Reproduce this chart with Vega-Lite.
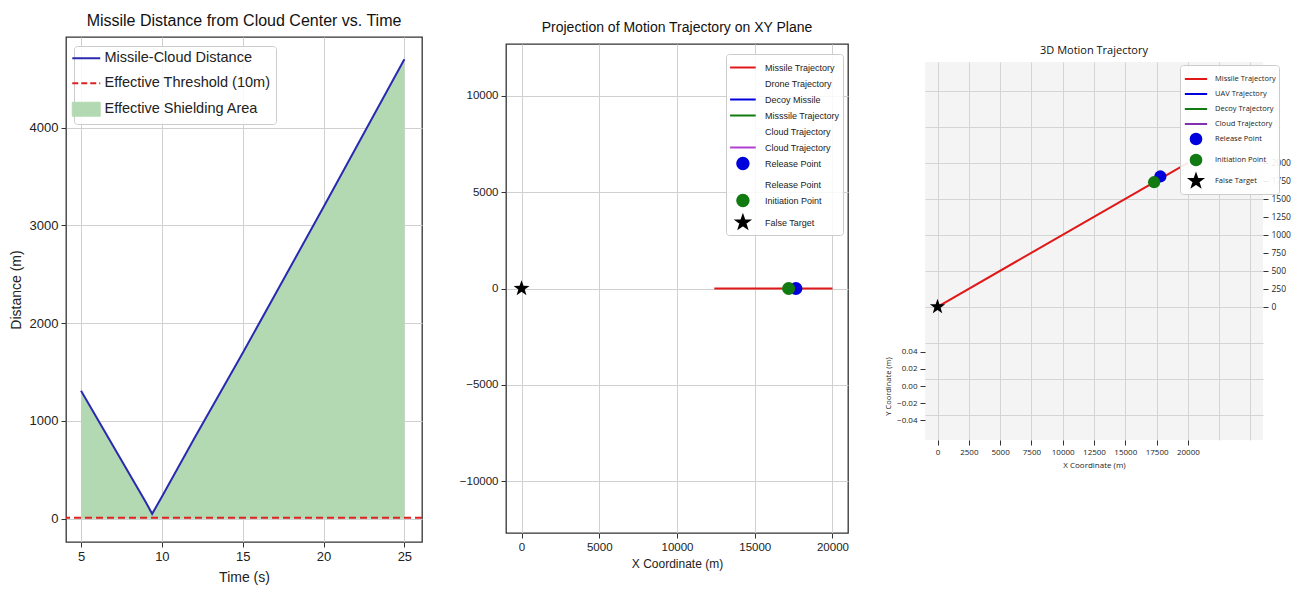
{
  "$schema": "https://vega.github.io/schema/vega-lite/v6.json",
  "padding": {"left": 8, "top": 11, "right": 5, "bottom": 2},
  "background": "white",
  "spacing": 34,
  "config": {
    "font": "Liberation Sans",
    "axis": {"gridColor": "#d0d0d0", "gridWidth": 1, "tickColor": "#333333", "labelColor": "#222222", "titleColor": "#222222", "domain": false, "labelFont": "Liberation Sans", "titleFont": "Liberation Sans", "titleFontWeight": "normal", "tickSize": 5, "labelPadding": 3, "labelOverlap": false},
    "title": {"font": "Liberation Sans", "fontWeight": "normal", "color": "#111111"},
    "legend": {"labelFont": "Liberation Sans"}
  },
  "datasets": {
    "dist": [
      {"t": 5, "d": 1310, "series": "Missile-Cloud Distance"},
      {"t": 9, "d": 170, "series": "Missile-Cloud Distance"},
      {"t": 9.4, "d": 50, "series": "Missile-Cloud Distance"},
      {"t": 10, "d": 225, "series": "Missile-Cloud Distance"},
      {"t": 12, "d": 820, "series": "Missile-Cloud Distance"},
      {"t": 15, "d": 1695, "series": "Missile-Cloud Distance"},
      {"t": 20, "d": 3188, "series": "Missile-Cloud Distance"},
      {"t": 25, "d": 4700, "series": "Missile-Cloud Distance"}
    ]
  },
  "resolve": {"scale": {"color": "independent", "x": "independent", "y": "independent"}, "legend": {"color": "independent"}},
  "hconcat": [
    {
      "spacing": 0,
      "resolve": {"scale": {"color": "independent", "x": "independent", "y": "independent"}, "legend": {"color": "independent"}},
      "vconcat": [
        {
          "width": 10,
          "height": 1,
          "view": {"stroke": null},
          "data": {"values": []},
          "mark": {"type": "point", "opacity": 0},
          "encoding": {}
        },
        {
          "width": 356,
          "height": 505,
          "view": {"stroke": "#333333", "strokeWidth": 1.3},
          "title": {"text": "Missile Distance from Cloud Center vs. Time", "fontSize": 16, "offset": 8},
          "layer": [
            {
              "data": {"name": "dist"},
              "mark": {"type": "area", "opacity": 1, "color": "#b2d9b2"},
              "encoding": {
                "x": {"field": "t", "type": "quantitative", "scale": {"domain": [4.07, 26.09], "nice": false, "zero": false},
                  "axis": {"values": [5, 10, 15, 20, 25], "title": "Time (s)", "titleFontSize": 14, "labelFontSize": 13, "titlePadding": 7}},
                "y": {"field": "d", "type": "quantitative", "scale": {"domain": [-238, 4928], "nice": false, "zero": false},
                  "axis": {"values": [0, 1000, 2000, 3000, 4000], "format": "d", "title": "Distance (m)", "titleFontSize": 14, "labelFontSize": 13, "titlePadding": 6}},
                "y2": {"datum": 0}
              }
            },
            {
              "data": {"name": "dist"},
              "mark": {"type": "line", "strokeWidth": 2},
              "encoding": {
                "x": {"field": "t", "type": "quantitative"},
                "y": {"field": "d", "type": "quantitative"},
                "color": {"field": "series", "type": "nominal",
                  "scale": {"domain": ["Missile-Cloud Distance", "Effective Threshold (10m)", "Effective Shielding Area"], "range": ["#2a2ab0", "#dd2222", "#b2d9b2"]},
                  "legend": {"orient": "none", "legendX": 8, "legendY": 9, "title": null, "labelFontSize": 14.5, "labelLimit": 300, "labelColor": "#222222", "symbolSize": 784, "rowPadding": 10, "padding": 5, "labelOffset": 11, "fillColor": "rgba(255,255,255,0.85)", "strokeColor": "#cccccc", "cornerRadius": 3,
                    "encode": {"symbols": {"update": {
                      "shape": {"signal": "datum.value == 'Effective Shielding Area' ? 'M-1,-0.5H1V0.5H-1Z' : 'M-1,0H1'"},
                      "fill": {"signal": "datum.value == 'Effective Shielding Area' ? '#b2d9b2' : 'transparent'"},
                      "stroke": {"signal": "datum.value == 'Effective Shielding Area' ? '#a3d0a3' : (datum.value == 'Effective Threshold (10m)' ? '#dd2222' : '#2a2ab0')"},
                      "strokeDash": {"signal": "datum.value == 'Effective Threshold (10m)' ? [6,3] : [1,0]"},
                      "strokeWidth": {"signal": "datum.value == 'Effective Shielding Area' ? 1 : 2"},
                      "opacity": {"value": 1}
                    }}}}
                }
              }
            },
            {
              "data": {"values": [{"d": 10, "series": "Effective Threshold (10m)"}]},
              "mark": {"type": "rule", "strokeWidth": 2.2, "strokeDash": [7, 4], "color": "#dd2222"},
              "encoding": {
                "y": {"field": "d", "type": "quantitative"}
              }
            }
          ]
        }
      ]
    },
    {
      "spacing": 8,
      "resolve": {"scale": {"color": "independent", "x": "independent", "y": "independent"}, "legend": {"color": "independent"}},
      "vconcat": [
        {
          "width": 10,
          "height": 1,
          "view": {"stroke": null},
          "data": {"values": []},
          "mark": {"type": "point", "opacity": 0},
          "encoding": {}
        },
        {
          "width": 342,
          "height": 489,
          "view": {"stroke": "#333333", "strokeWidth": 1.3},
          "title": {"text": "Projection of Motion Trajectory on XY Plane", "fontSize": 14, "offset": 9},
          "layer": [
            {
              "data": {"values": [
                {"x": 12400, "y": 0, "series": "Missile Trajectory"},
                {"x": 20000, "y": 0, "series": "Missile Trajectory"}
              ]},
              "mark": {"type": "line", "strokeWidth": 2},
              "encoding": {
                "x": {"field": "x", "type": "quantitative", "scale": {"domain": [-1000, 21000], "nice": false, "zero": false},
                  "axis": {"values": [0, 5000, 10000, 15000, 20000], "format": "d", "title": "X Coordinate (m)", "titleFontSize": 12, "labelFontSize": 11.5, "titlePadding": 6}},
                "y": {"field": "y", "type": "quantitative", "scale": {"domain": [-12680, 12680], "nice": false, "zero": false},
                  "axis": {"values": [-10000, -5000, 0, 5000, 10000], "format": "d", "title": null, "labelFontSize": 11.5}},
                "color": {"field": "series", "type": "nominal",
                  "scale": {"domain": ["Missile Trajectory", "Drone Trajectory", "Decoy Missile", "Misssile Trajectory", "Cloud Trajectory", "Cloud Trajectory ", "Release Point", "Release Point ", "Initiation Point", "False Target"],
                    "range": ["#e01818", "#ffffff", "#0000dd", "#117a11", "#ffffff", "#b040d0", "#0000dd", "#ffffff", "#117a11", "#000000"]},
                  "legend": {"orient": "none", "legendX": 220, "legendY": 10, "title": null, "labelFontSize": 9, "labelColor": "#222222", "symbolSize": 361, "rowPadding": 0, "padding": 3, "labelOffset": 15, "fillColor": "rgba(255,255,255,0.85)", "strokeColor": "#cccccc", "cornerRadius": 3,
                    "encode": {"symbols": {"update": {
                      "shape": {"signal": "datum.value == 'False Target' ? 'M0,-0.7L0.165,-0.227L0.666,-0.216L0.266,0.087L0.412,0.566L0,0.28L-0.412,0.566L-0.266,0.087L-0.666,-0.216L-0.165,-0.227Z' : ((datum.value == 'Release Point' || datum.value == 'Initiation Point') ? 'M0.6,0L0.554,0.23L0.424,0.424L0.23,0.554L0,0.6L-0.23,0.554L-0.424,0.424L-0.554,0.23L-0.6,0L-0.554,-0.23L-0.424,-0.424L-0.23,-0.554L0,-0.6L0.23,-0.554L0.424,-0.424L0.554,-0.23Z' : 'M-1.35,0H1.35')"},
                      "x": {"signal": "datum.size/2 + 3.4"},
                      "stroke": {"signal": "datum.value == 'Missile Trajectory' ? '#e01818' : (datum.value == 'Decoy Missile' ? '#0000dd' : (datum.value == 'Misssile Trajectory' ? '#117a11' : (datum.value == 'Cloud Trajectory ' ? '#b040d0' : 'transparent')))"},
                      "fill": {"signal": "datum.value == 'Release Point' ? '#0000dd' : (datum.value == 'Initiation Point' ? '#117a11' : (datum.value == 'False Target' ? '#000000' : 'transparent'))"},
                      "strokeWidth": {"value": 2},
                      "opacity": {"value": 1}
                    }}}}
                }
              }
            },
            {
              "data": {"values": [
                {"x": 17650, "y": 0, "series": "Release Point"}
              ]},
              "mark": {"type": "point", "filled": true, "opacity": 1, "size": 170, "shape": "circle", "color": "#0000dd"},
              "encoding": {
                "x": {"field": "x", "type": "quantitative"},
                "y": {"field": "y", "type": "quantitative"}
              }
            },
            {
              "data": {"values": [
                {"x": 17180, "y": 0, "series": "Initiation Point"}
              ]},
              "mark": {"type": "point", "filled": true, "opacity": 1, "size": 170, "shape": "circle", "color": "#117a11"},
              "encoding": {
                "x": {"field": "x", "type": "quantitative"},
                "y": {"field": "y", "type": "quantitative"}
              }
            },
            {
              "data": {"values": [
                {"x": 0, "y": 0, "series": "False Target"}
              ]},
              "mark": {"type": "point", "filled": true, "opacity": 1, "size": 280, "color": "#000000", "shape": "M0,-1L0.235,-0.324L0.951,-0.309L0.38,0.124L0.588,0.809L0,0.4L-0.588,0.809L-0.38,0.124L-0.951,-0.309L-0.235,-0.324Z"},
              "encoding": {
                "x": {"field": "x", "type": "quantitative"},
                "y": {"field": "y", "type": "quantitative"}
              }
            }
          ]
        }
      ]
    },
    {
      "spacing": 28,
      "resolve": {"scale": {"color": "independent", "x": "independent", "y": "independent"}, "legend": {"color": "independent"}},
      "vconcat": [
        {
          "width": 10,
          "height": 6,
          "view": {"stroke": null},
          "data": {"values": []},
          "mark": {"type": "point", "opacity": 0},
          "encoding": {}
        },
        {
          "width": 338,
          "height": 378,
          "view": {"fill": "#f4f4f4", "stroke": null},
          "title": {"text": "3D Motion Trajectory", "font": "Open Sans", "fontSize": 11, "offset": 6},
          "resolve": {"scale": {"y": "independent"}, "axis": {"y": "independent"}},
          "layer": [
            {
              "layer": [
                {
                  "data": {"values": [
                    {"x": 0, "z": 0, "series": "Missile Trajectory"},
                    {"x": 20000, "z": 2000, "series": "Missile Trajectory"}
                  ]},
                  "mark": {"type": "line", "strokeWidth": 2},
                  "encoding": {
                    "x": {"field": "x", "type": "quantitative", "scale": {"domain": [-1000, 26000], "nice": false, "zero": false},
                      "axis": {"values": [0, 2500, 5000, 7500, 10000, 12500, 15000, 17500, 20000, 22500, 25000], "tickCount": 100, "labelExpr": "datum.value > 20000 ? '' : datum.label", "tickOpacity": {"condition": {"test": "datum.value > 20000", "value": 0}, "value": 1}, "format": "d", "title": "X Coordinate (m)", "titleFont": "Open Sans", "labelFont": "Open Sans", "titleFontSize": 8, "labelFontSize": 8, "gridColor": "#d4d4d4", "titlePadding": 5, "labelOverlap": false}},
                    "y": {"field": "z", "type": "quantitative", "scale": {"domain": [-1850, 3400], "nice": false, "zero": false},
                      "axis": {"orient": "right", "values": [-1750, -1500, -1250, -1000, -750, -500, -250, 0, 250, 500, 750, 1000, 1250, 1500, 1750, 2000, 2250, 2500, 2750, 3000, 3250], "tickCount": 100, "labelExpr": "(datum.value > 2000 || datum.value < 0) ? '' : datum.label", "tickOpacity": {"condition": {"test": "datum.value > 2000 || datum.value < 0", "value": 0}, "value": 1}, "gridOpacity": {"condition": {"test": "datum.value % 500 != 0", "value": 0}, "value": 1}, "format": "d", "title": null, "labelFont": "Open Sans", "labelFontSize": 8.5, "gridColor": "#d4d4d4", "labelOverlap": false}},
                    "color": {"field": "series", "type": "nominal",
                      "scale": {"domain": ["Missile Trajectory", "UAV Trajectory", "Decoy Trajectory", "Cloud Trajectory", "Release Point", "Initiation Point", "False Target"],
                        "range": ["#e01818", "#0000dd", "#117a11", "#8030b0", "#0000dd", "#117a11", "#000000"]},
                      "legend": {"orient": "none", "legendX": 255, "legendY": 3, "title": null, "labelFont": "Open Sans", "labelFontSize": 7.5, "labelColor": "#222222", "symbolSize": 376, "rowPadding": 0, "padding": 3, "labelOffset": 10, "fillColor": "rgba(255,255,255,0.9)", "strokeColor": "#cccccc", "cornerRadius": 3,
                        "encode": {"symbols": {"update": {
                          "shape": {"signal": "datum.value == 'False Target' ? 'M0,-0.67L0.157,-0.217L0.637,-0.207L0.255,0.083L0.394,0.542L0,0.268L-0.394,0.542L-0.255,0.083L-0.637,-0.207L-0.157,-0.217Z' : ((datum.value == 'Release Point' || datum.value == 'Initiation Point') ? 'M0.55,0L0.508,0.21L0.389,0.389L0.21,0.508L0,0.55L-0.21,0.508L-0.389,0.389L-0.508,0.21L-0.55,0L-0.508,-0.21L-0.389,-0.389L-0.21,-0.508L0,-0.55L0.21,-0.508L0.389,-0.389L0.508,-0.21Z' : 'M-1.15,0H1.15')"},
                          "x": {"signal": "datum.size/2 + 2"},
                          "stroke": {"signal": "datum.value == 'Missile Trajectory' ? '#e01818' : (datum.value == 'UAV Trajectory' ? '#0000dd' : (datum.value == 'Decoy Trajectory' ? '#117a11' : (datum.value == 'Cloud Trajectory' ? '#8030b0' : 'transparent')))"},
                          "fill": {"signal": "datum.value == 'Release Point' ? '#0000dd' : (datum.value == 'Initiation Point' ? '#117a11' : (datum.value == 'False Target' ? '#000000' : 'transparent'))"},
                          "strokeWidth": {"value": 2},
                          "opacity": {"value": 1}
                        }}}}
                    }
                  }
                },
                {
                  "data": {"values": [
                    {"x": 17800, "z": 1810, "series": "Release Point"}
                  ]},
                  "mark": {"type": "point", "filled": true, "opacity": 1, "size": 150, "shape": "circle", "color": "#0000dd"},
                  "encoding": {
                    "x": {"field": "x", "type": "quantitative"},
                    "y": {"field": "z", "type": "quantitative"}
                  }
                },
                {
                  "data": {"values": [
                    {"x": 17300, "z": 1730, "series": "Initiation Point"}
                  ]},
                  "mark": {"type": "point", "filled": true, "opacity": 1, "size": 150, "shape": "circle", "color": "#117a11"},
                  "encoding": {
                    "x": {"field": "x", "type": "quantitative"},
                    "y": {"field": "z", "type": "quantitative"}
                  }
                },
                {
                  "data": {"values": [
                    {"x": 0, "z": 0, "series": "False Target"}
                  ]},
                  "mark": {"type": "point", "filled": true, "opacity": 1, "size": 260, "color": "#000000", "shape": "M0,-1L0.235,-0.324L0.951,-0.309L0.38,0.124L0.588,0.809L0,0.4L-0.588,0.809L-0.38,0.124L-0.951,-0.309L-0.235,-0.324Z"},
                  "encoding": {
                    "x": {"field": "x", "type": "quantitative"},
                    "y": {"field": "z", "type": "quantitative"}
                  }
                }
              ]
            },
            {
              "data": {"values": [
                {"x": 0, "ycoord": 0, "series": "False Target"}
              ]},
              "mark": {"type": "point", "opacity": 0},
              "encoding": {
                "x": {"field": "x", "type": "quantitative"},
                "y": {"field": "ycoord", "type": "quantitative", "scale": {"domain": [-0.0635, 0.381], "nice": false, "zero": false},
                  "axis": {"orient": "left", "values": [-0.04, -0.02, 0, 0.02, 0.04], "tickCount": 100, "format": ".2f", "grid": false, "title": "Y Coordinate (m)", "titleY": 324, "titleFont": "Open Sans", "titleFontSize": 7.5, "titlePadding": 4, "labelFont": "Open Sans", "labelFontSize": 8}}
              }
            }
          ]
        }
      ]
    }
  ]
}
